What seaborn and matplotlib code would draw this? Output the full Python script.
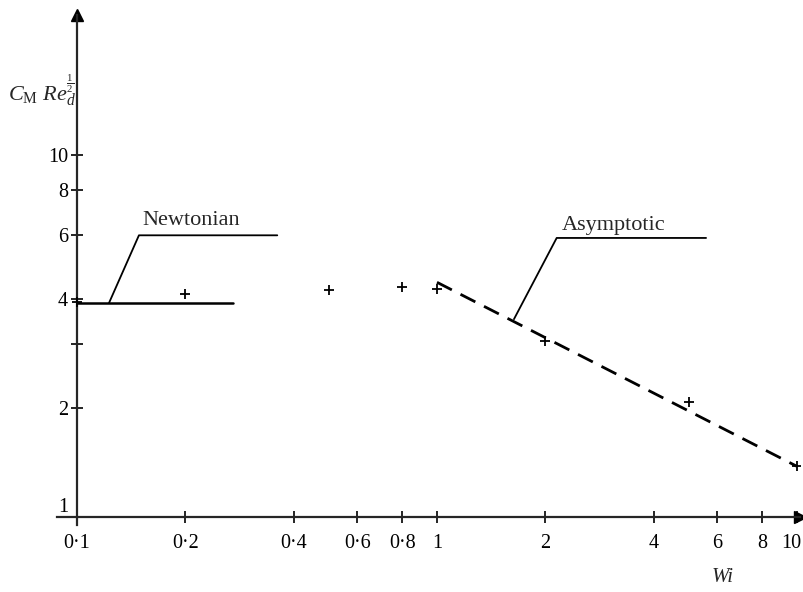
import numpy as np
import pandas as pd
import matplotlib
matplotlib.use("Agg")
import matplotlib.pyplot as plt
import matplotlib.transforms as mtransforms
import seaborn as sns

# data
wi_pts = [0.1, 0.2, 0.5, 0.8, 1.0, 2.0, 5.0, 10.0]
cm_pts = [3.92, 4.13, 4.24, 4.32, 4.26, 3.06, 2.08, 1.38]

newt_wi = [0.1, 0.271]
newt_cm = [3.90, 3.90]

asym_wi = [1.0, 10.0]
asym_cm = [4.45, 1.38]

x_ticks = [0.1, 0.2, 0.4, 0.6, 0.8, 1, 2, 4, 6, 8, 10]
x_labels = ["0·1", "0·2", "0·4", "0·6", "0·8", "1", "2", "4", "6", "8", "10"]
y_ticks = [1, 2, 3, 4, 6, 8, 10]
y_labels = ["1", "2", "", "4", "6", "8", "10"]

sns.set_style("ticks")
plt.rcParams["font.family"] = ["Liberation Serif", "DejaVu Serif"]
plt.rcParams["mathtext.fontset"] = "custom"
plt.rcParams["mathtext.rm"] = "Liberation Serif"
plt.rcParams["mathtext.it"] = "Liberation Serif:italic"
plt.rcParams["mathtext.bf"] = "Liberation Serif:bold"

fig = plt.figure(figsize=(8.04, 5.92), dpi=100)
# axes box in pixels: left 57, right 800, bottom 525, top 15
ax = fig.add_axes([57 / 804, (592 - 525) / 592, (800 - 57) / 804, (525 - 15) / 592])

pts = pd.DataFrame({"Wi": wi_pts, "CM": cm_pts})
sns.scatterplot(data=pts, x="Wi", y="CM", marker="+", s=45, color="black",
                linewidth=1.3, ax=ax, zorder=4)
sns.lineplot(x=newt_wi, y=newt_cm, color="black", linewidth=1.8, ax=ax)
sns.lineplot(x=asym_wi, y=asym_cm, color="black", linewidth=2.0,
             dashes=False, ax=ax).lines[-1].set_dashes([6, 3.5])

ax.set_xscale("log")
ax.set_yscale("log")
ax.set_xlim(0.1 * 10 ** (-20 / 360), 0.1 * 10 ** (723 / 360))
ax.set_ylim(10 ** (-8 / 362), 10 ** (502 / 362))

ax.spines["top"].set_visible(False)
ax.spines["right"].set_visible(False)
ax.spines["left"].set_position(("data", 0.1))
ax.spines["bottom"].set_position(("data", 1))
ax.spines["left"].set_linewidth(1.6)
ax.spines["bottom"].set_linewidth(1.6)

ax.set_xticks(x_ticks)
ax.set_xticklabels(x_labels, fontsize=14.5)
ax.set_yticks(y_ticks)
ax.set_yticklabels(y_labels, fontsize=14.5)
ax.minorticks_off()
ax.tick_params(axis="both", direction="inout", length=9, width=1.2, colors="black")
ax.tick_params(axis="x", pad=8)
ax.tick_params(axis="y", pad=2)
for lab in ax.get_yticklabels():
    if lab.get_text() == "1":
        lab.set_va("bottom")
# last x label sits under the arrow head, nudge it left
last = ax.get_xticklabels()[-1]
last.set_transform(last.get_transform() +
                   mtransforms.ScaledTranslation(-6 / 100, 0, fig.dpi_scale_trans))
ax.set_xlabel("")
ax.set_ylabel("")

# axis arrows
ax.plot(1, 1, ">", color="black", markersize=8, clip_on=False,
        transform=ax.get_yaxis_transform())
ax.plot(0.1, 1, "^", color="black", markersize=8, clip_on=False,
        transform=ax.get_xaxis_transform())

# leader lines and labels
ax.plot([0.1227, 0.1486, 0.36], [3.90, 6.0, 6.0], color="black", linewidth=1.3)
ax.text(0.208, 6.6, "Newtonian", fontsize=16, ha="center", va="center")
ax.plot([1.636, 2.15, 5.59], [3.52, 5.9, 5.9], color="black", linewidth=1.3)
ax.text(3.10, 6.4, "Asymptotic", fontsize=16, ha="center", va="center")

fig.text(723 / 804, 1 - 578 / 592, "Wi", fontsize=15, style="italic",
         ha="center", va="center")
fig.text(8 / 804, 1 - 90 / 592, r"$C_{\mathrm{M}}\ Re_{d}^{\frac{1}{2}}$",
         fontsize=16, ha="left", va="center")

fig.savefig("out.png", dpi=100)
